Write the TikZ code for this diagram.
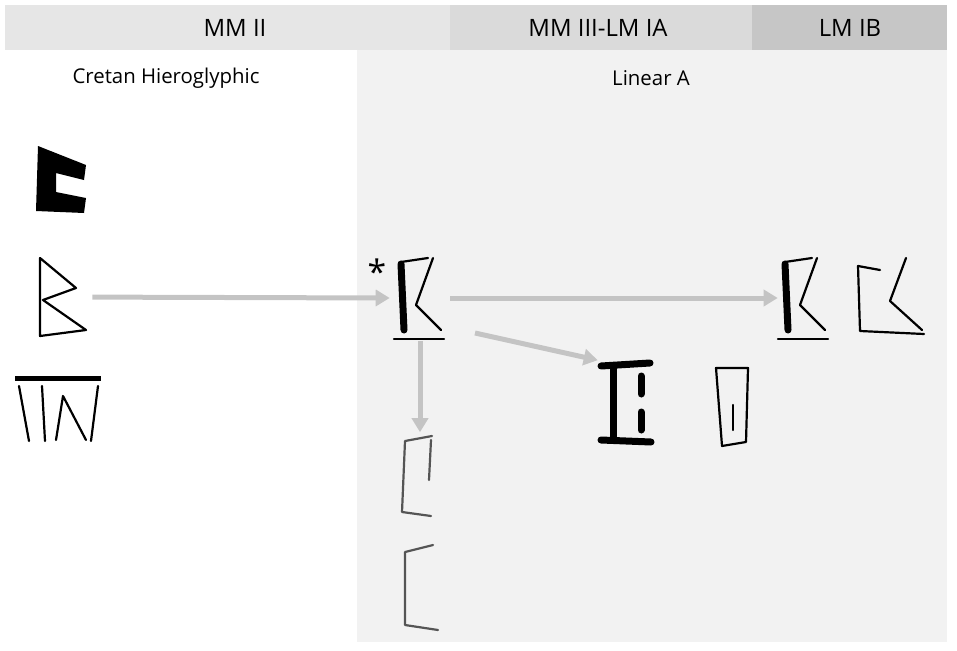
\documentclass[tikz,border=0pt]{standalone}
\usepackage{fontspec}
\setmainfont{Open Sans}
\usetikzlibrary{arrows.meta}
\definecolor{hdrA}{HTML}{E6E6E6}
\definecolor{hdrB}{HTML}{DADADA}
\definecolor{hdrC}{HTML}{C6C6C6}
\definecolor{panel}{HTML}{F2F2F2}
\definecolor{flow}{HTML}{C4C4C4}
\definecolor{faint}{HTML}{555555}
\tikzset{
  hdr/.style={font=\fontsize{17}{20}\selectfont},
  ttl/.style={font=\fontsize{14.5}{17}\selectfont},
  sign/.style={inner sep=0pt,minimum width=60*0.025cm,minimum height=85*0.025cm},
  flw/.style={flow,line width=5*0.025cm,-{Triangle[length=14*0.025cm,width=16*0.025cm]}},
  ink/.style={line width=2.2*0.025cm,line cap=round,line join=round},
  bold/.style={line width=7*0.025cm,line cap=round,line join=round},
}
\begin{document}
\begin{tikzpicture}[x=0.025cm,y=-0.025cm]
    \useasboundingbox (0,0) rectangle (957,650);
    % Periods
    \fill[hdrA] (5,5) rectangle (450,50);
    \fill[hdrB] (450,5) rectangle (752,50);
    \fill[hdrC] (752,5) rectangle (947,50);
    \fill[panel] (357,50) rectangle (947,642);
    \node[hdr] at (235,28) {MM II};
    \node[hdr] at (598,28) {MM III-LM IA};
    \node[hdr] at (850,28) {LM IB};
    \node[ttl] at (166,78) {Cretan Hieroglyphic};
    \node[ttl] at (651,78) {Linear A};

    % Sign places
    \node[sign] (hA) at (60,180) {};
    \node[sign] (hB) at (62,297) {};
    \node[sign] (hC) at (58,410) {};
    \node[sign] (la) at (420,298) {};
    \node[sign] (lb) at (808,298) {};
    \node[sign] (lc) at (628,403) {};
    \node[sign] (ld) at (420,475) {};

    % Hieroglyphic signs
    \fill (38,146) -- (86,165) -- (84,180) -- (56,173) -- (56,192) -- (86,198) -- (84,213) -- (36,211) -- cycle;
    \draw[ink] (40,258) -- (40,336) -- (86,330) -- (43,300) -- (76,288) -- cycle;
    \draw[line width=5*0.025cm] (15,378) -- (101,378);
    \draw[ink] (19,386) -- (29,441);
    \draw[ink] (42,386) -- (45,441);
    \draw[ink] (56,440) -- (63,396) -- (86,440);
    \draw[ink] (98,386) -- (91,441);

    % Linear A signs
    \node[font=\fontsize{24}{24}\selectfont] at (377,272) {*};
    \foreach \dx in {0,384} {
      \draw[bold] (401+\dx,264) -- (404+\dx,330);
      \draw[ink] (401+\dx,262) -- (428+\dx,258);
      \draw[ink] (433+\dx,258) -- (416+\dx,305) -- (441+\dx,330);
      \draw[ink] (394+\dx,339) -- (444+\dx,339);
    }
    \draw[ink] (858,266) -- (860,331) -- (924,334);
    \draw[ink] (858,266) -- (880,270);
    \draw[ink] (906,258) -- (890,301) -- (922,330);
    \draw[bold] (613,366) -- (613,440);
    \draw[bold] (601,366) -- (650,363);
    \draw[bold] (601,440) -- (651,442);
    \draw[bold] (641,376) -- (641,394);
    \draw[bold] (641,412) -- (641,430);
    \draw[ink] (716,368) -- (722,446) -- (746,442) -- (748,368) -- cycle;
    \draw[ink] (733,405) -- (733,430);
    \draw[ink,faint] (432,436) -- (405,441) -- (402,512) -- (431,516);
    \draw[ink,faint] (431,440) -- (429,480);
    \draw[ink,faint] (433,545) -- (405,552) -- (405,625) -- (438,630);

    % Derivations
    \draw[flw] (hB) -- (la.west);
    \draw[flw] (la.east) -- (lb.west);
    \draw[flw] (475,333) -- (lc.north west);
    \draw[flw] (la.south) -- (ld.north);
\end{tikzpicture}
\end{document}
